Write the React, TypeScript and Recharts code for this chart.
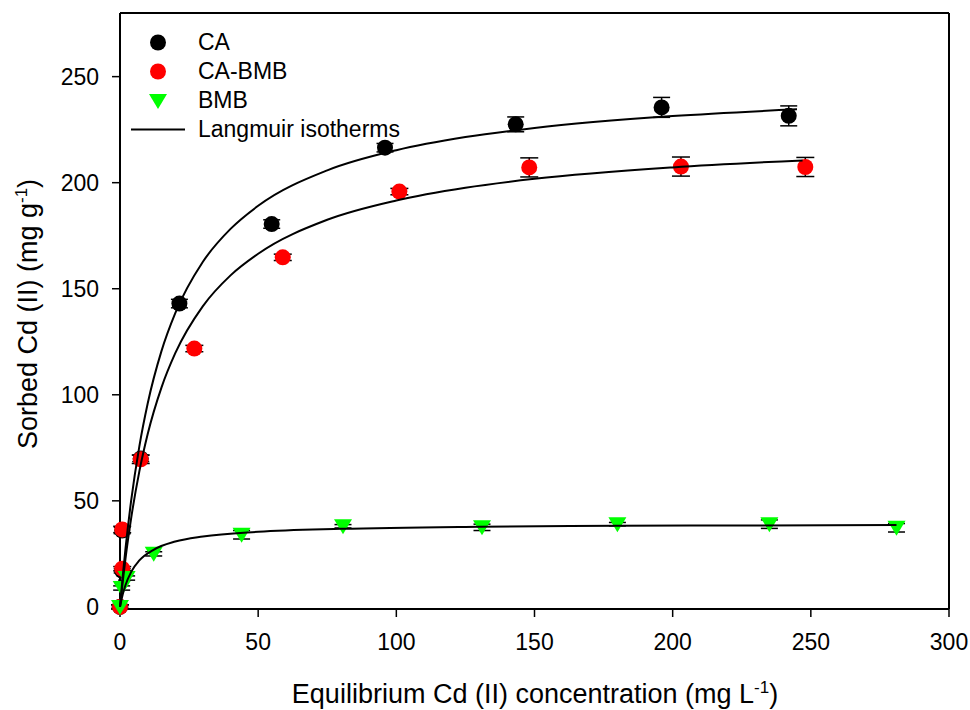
import React from 'react';
import {
  ComposedChart, Scatter, Line, XAxis, YAxis, ErrorBar, ReferenceLine, Legend,
} from 'recharts';

const FONT = '"Liberation Sans", Arial, Helvetica, sans-serif';

// measured points (x = equilibrium conc., y = sorbed, err = error bar half-length)
const CA_X = [0, 0.8, 0.8, 7.5, 21.5, 54.9, 95.9, 143.2, 196, 242];
const CA_Y = [0, 17, 36, 70, 143, 180.5, 216.5, 227.5, 235.5, 231.5];
const CA_ERR = [1, 1, 1.5, 1.5, 2, 2, 2, 3.5, 4.7, 4.7];

const CABMB_X = [0, 0.8, 0.8, 7.5, 26.9, 58.9, 101.1, 148.1, 203, 248];
const CABMB_Y = [0, 18, 36.5, 69.6, 121.8, 164.8, 195.8, 207.2, 207.6, 207.4];
const CABMB_ERR = [1, 1, 1.5, 2, 1.5, 1.5, 1.5, 4.5, 4.5, 4.5];

const BMB_X = [0, 0.6, 2.4, 12.2, 44, 80.7, 131, 180, 235, 281];
const BMB_Y = [0, 8.9, 13.6, 25, 34, 38, 37.5, 39, 39, 37.3];
const BMB_ERR = [0.5, 1, 1, 1, 2, 0.8, 1.5, 0.8, 2, 2];

// Langmuir curves
const CA_FIT_X = [0, 1, 2, 4, 7, 10, 15, 20, 30, 40, 50, 75, 100, 125, 150, 200, 245];
const CA_FIT_Y = [0, 14.6, 27.6, 49.7, 75.7, 95.8, 120.6, 138.5, 162.7, 178.2, 189.1, 205.8, 215.3, 221.5, 225.8, 231.4, 234.6];

const CABMB_FIT_X = [0, 1, 2, 4, 7, 10, 15, 20, 30, 40, 50, 75, 100, 125, 150, 200, 247];
const CABMB_FIT_Y = [0, 12.0, 22.9, 41.5, 63.9, 81.4, 103.4, 119.6, 141.8, 156.3, 166.5, 182.5, 191.6, 197.6, 201.8, 207.2, 210.5];

const BMB_FIT_X = [0, 1, 2, 4, 7, 12, 20, 30, 50, 80, 130, 180, 230, 281];
const BMB_FIT_Y = [0, 5.9, 10.3, 16.4, 21.9, 26.8, 30.8, 33.2, 35.4, 36.8, 37.8, 38.2, 38.4, 38.6];

const X_TICKS = [0, 50, 100, 150, 200, 250, 300];
const Y_TICKS = [0, 50, 100, 150, 200, 250];

const LEGEND_ITEMS = [
  { label: 'CA', kind: 'dot', color: '#000000' },
  { label: 'CA-BMB', kind: 'dot', color: '#ff0000' },
  { label: 'BMB', kind: 'tri', color: '#00ff00' },
  { label: 'Langmuir isotherms', kind: 'line', color: '#000000' },
];

const zip = (xs: number[], ys: number[], errs?: number[]) =>
  xs.map((x, i) => ({ x, y: ys[i], err: errs ? errs[i] : 0 }));

const caPts = zip(CA_X, CA_Y, CA_ERR);
const cabmbPts = zip(CABMB_X, CABMB_Y, CABMB_ERR);
const bmbPts = zip(BMB_X, BMB_Y, BMB_ERR);
const caFit = zip(CA_FIT_X, CA_FIT_Y);
const cabmbFit = zip(CABMB_FIT_X, CABMB_FIT_Y);
const bmbFit = zip(BMB_FIT_X, BMB_FIT_Y);

const dotShape = (color: string) => (p: any) => (
  <circle cx={p.cx} cy={p.cy} r={8} fill={color} />
);
const triShape = (p: any) => (
  <polygon
    points={`${p.cx - 9},${p.cy - 7} ${p.cx + 9},${p.cy - 7} ${p.cx},${p.cy + 8}`}
    fill="#00ff00"
  />
);

function LegendBox() {
  return (
    <div style={{ fontFamily: FONT, fontSize: 23, color: '#000' }}>
      {LEGEND_ITEMS.map(it => (
        <div key={it.label} style={{ display: 'flex', alignItems: 'center', height: 29 }}>
          <svg width={54} height={29} style={{ marginRight: 13 }}>
            {it.kind === 'dot' && <circle cx={27} cy={14.5} r={8} fill={it.color} />}
            {it.kind === 'tri' && <polygon points="18,8 36,8 27,23" fill={it.color} />}
            {it.kind === 'line' && <line x1={0} x2={54} y1={14.5} y2={14.5} stroke={it.color} strokeWidth={2} />}
          </svg>
          <span>{it.label}</span>
        </div>
      ))}
    </div>
  );
}

const yLabel = () => (
  <text transform="translate(37, 314) rotate(-90)" textAnchor="middle"
    fontFamily={FONT} fontSize={27} fill="#000">
    <tspan>Sorbed Cd (II) (mg g</tspan>
    <tspan dy={-10} fontSize={17}>-1</tspan>
    <tspan dy={10}>)</tspan>
  </text>
);

const xLabel = () => (
  <text x={535} y={703} textAnchor="middle" fontFamily={FONT} fontSize={27} fill="#000">
    <tspan>Equilibrium Cd (II) concentration (mg L</tspan>
    <tspan dy={-10} fontSize={17}>-1</tspan>
    <tspan dy={10}>)</tspan>
  </text>
);

const tickStyle = { fill: '#000', fontSize: 23, fontFamily: FONT };

export default function App() {
  return (
    <div style={{ position: 'absolute', left: 0, top: 0, width: 970, height: 710, background: '#fff' }}>
      <ComposedChart width={970} height={710} margin={{ top: 13, right: 21, bottom: 21, left: 0 }}>
        <XAxis
          type="number" dataKey="x" domain={[0, 300]} ticks={X_TICKS} height={80}
          tick={tickStyle} tickSize={8} tickMargin={17}
          axisLine={{ stroke: '#000', strokeWidth: 2 }}
          tickLine={{ stroke: '#000', strokeWidth: 1.5 }}
          label={{ content: xLabel }}
        />
        <YAxis
          type="number" dataKey="y" domain={[0, 280]} ticks={Y_TICKS} width={120}
          tick={tickStyle} tickSize={8} tickMargin={13}
          axisLine={{ stroke: '#000', strokeWidth: 2 }}
          tickLine={{ stroke: '#000', strokeWidth: 1.5 }}
          label={{ content: yLabel }}
        />
        <ReferenceLine y={280} stroke="#000" strokeWidth={2} />
        <ReferenceLine x={300} stroke="#000" strokeWidth={2} />
        <Scatter data={caPts} dataKey="y" shape={dotShape('#000000')} isAnimationActive={false} legendType="none">
          <ErrorBar dataKey="err" direction="y" width={8.5} stroke="#000" strokeWidth={1.5} />
        </Scatter>
        <Scatter data={cabmbPts} dataKey="y" shape={dotShape('#ff0000')} isAnimationActive={false} legendType="none">
          <ErrorBar dataKey="err" direction="y" width={9} stroke="#000" strokeWidth={1.5} />
        </Scatter>
        <Scatter data={bmbPts} dataKey="y" shape={triShape} isAnimationActive={false} legendType="none">
          <ErrorBar dataKey="err" direction="y" width={8.5} stroke="#000" strokeWidth={1.5} />
        </Scatter>
        <Line data={caFit} dataKey="y" type="monotone" stroke="#000" strokeWidth={2} dot={false}
          activeDot={false} isAnimationActive={false} legendType="none" zIndex={700} />
        <Line data={cabmbFit} dataKey="y" type="monotone" stroke="#000" strokeWidth={2} dot={false}
          activeDot={false} isAnimationActive={false} legendType="none" zIndex={700} />
        <Line data={bmbFit} dataKey="y" type="monotone" stroke="#000" strokeWidth={2} dot={false}
          activeDot={false} isAnimationActive={false} legendType="none" zIndex={700} />
        <Legend
          layout="vertical" align="center" verticalAlign="middle"
          content={() => <LegendBox />}
          wrapperStyle={{ position: 'absolute', left: 131, top: 28, width: 320, height: 120 }}
        />
      </ComposedChart>
    </div>
  );
}
